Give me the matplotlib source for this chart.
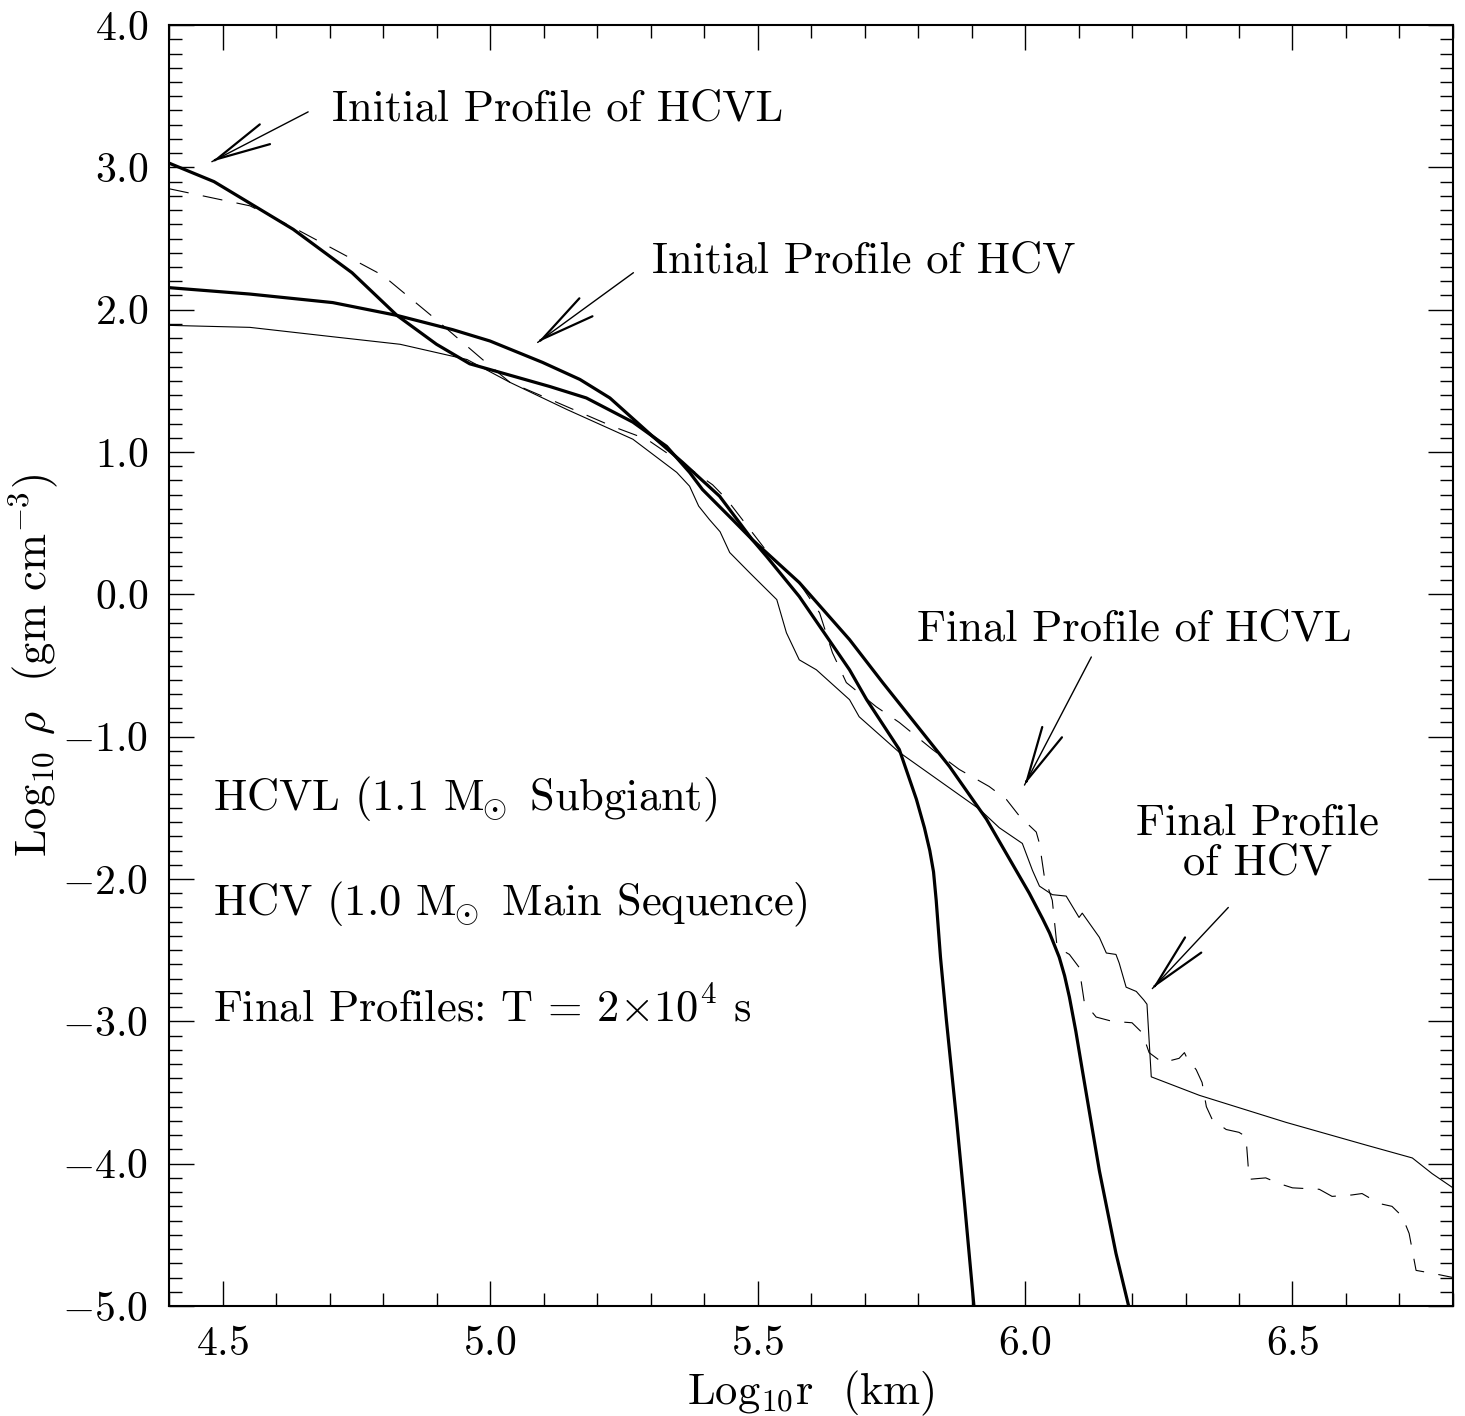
import matplotlib
matplotlib.use("Agg")
import matplotlib.pyplot as plt
from matplotlib.ticker import MultipleLocator, FuncFormatter

# Profilo iniziale HCVL (linea spessa)
hcvl_init_x = [4.40, 4.484, 4.632, 4.742, 4.826, 4.90, 4.962, 5.112, 5.18, 5.267, 5.33, 5.373,
               5.397, 5.453, 5.49, 5.517, 5.578, 5.672, 5.704, 5.765, 5.797, 5.812, 5.822, 5.829,
               5.834, 5.838, 5.842, 5.853, 5.872, 5.887, 5.905]
hcvl_init_y = [3.03, 2.90, 2.565, 2.26, 1.96, 1.757, 1.62, 1.46, 1.38, 1.21, 1.04, 0.857,
               0.737, 0.526, 0.385, 0.266, -0.015, -0.53, -0.74, -1.09, -1.44, -1.64, -1.80, -1.95,
               -2.15, -2.35, -2.55, -2.99, -3.69, -4.28, -5.02]

# Profilo iniziale HCV (linea spessa)
hcv_init_x = [4.40, 4.551, 4.706, 4.826, 4.93, 5.0, 5.098, 5.168, 5.224, 5.304, 5.36, 5.429,
              5.49, 5.578, 5.672, 5.734, 5.859, 5.928, 6.008, 6.033, 6.046, 6.064, 6.074, 6.083,
              6.095, 6.107, 6.139, 6.17, 6.195]
hcv_init_y = [2.155, 2.11, 2.05, 1.96, 1.86, 1.78, 1.63, 1.51, 1.38, 1.11, 0.927, 0.69,
              0.385, 0.083, -0.318, -0.62, -1.21, -1.58, -2.10, -2.28, -2.38, -2.55, -2.68, -2.83,
              -3.07, -3.34, -4.05, -4.63, -5.02]

# Profilo finale HCV (linea sottile)
hcv_final_x = [4.40, 4.551, 4.706, 4.832, 4.957, 5.037, 5.143, 5.267, 5.349, 5.373, 5.39, 5.41,
               5.43, 5.448, 5.485, 5.536, 5.554, 5.578, 5.61, 5.672, 5.69, 5.765, 5.915, 5.952,
               5.995, 6.014, 6.027, 6.051, 6.077, 6.101, 6.107, 6.139, 6.152, 6.17, 6.176, 6.189,
               6.208, 6.222, 6.228, 6.236, 6.326, 6.488, 6.638, 6.724, 6.761, 6.8]
hcv_final_y = [1.89, 1.876, 1.81, 1.757, 1.65, 1.49, 1.30, 1.09, 0.857, 0.76, 0.62, 0.526,
               0.44, 0.294, 0.153, -0.037, -0.27, -0.46, -0.53, -0.74, -0.86, -1.11, -1.51, -1.64,
               -1.75, -1.94, -2.05, -2.11, -2.12, -2.27, -2.24, -2.41, -2.52, -2.53, -2.59, -2.76,
               -2.79, -2.85, -2.88, -3.39, -3.52, -3.71, -3.87, -3.96, -4.07, -4.17]

# Profilo finale HCVL (tratteggiato)
hcvl_final_x = [4.40, 4.551, 4.626, 4.80, 4.893, 4.986, 5.037, 5.112, 5.229, 5.293, 5.367, 5.416,
                5.442, 5.529, 5.578, 5.616, 5.64, 5.666, 5.722, 5.765, 5.827, 5.877, 5.933, 5.965,
                5.99, 6.021, 6.027, 6.036, 6.051, 6.06, 6.083, 6.101, 6.111, 6.133, 6.163, 6.2,
                6.219, 6.232, 6.257, 6.288, 6.298, 6.303, 6.32, 6.331, 6.339, 6.35, 6.376, 6.4,
                6.413, 6.419, 6.45, 6.475, 6.5, 6.55, 6.574, 6.611, 6.63, 6.662, 6.686, 6.705,
                6.718, 6.724, 6.731, 6.761, 6.8]
hcvl_final_y = [2.85, 2.73, 2.59, 2.24, 1.95, 1.65, 1.49, 1.37, 1.18, 1.09, 0.90, 0.77,
                0.67, 0.245, 0.08, -0.13, -0.41, -0.62, -0.79, -0.90, -1.09, -1.23, -1.35, -1.44,
                -1.56, -1.67, -1.75, -1.98, -2.15, -2.48, -2.53, -2.62, -2.87, -2.97, -3.0, -3.01,
                -3.08, -3.22, -3.29, -3.26, -3.22, -3.26, -3.34, -3.43, -3.60, -3.69, -3.76, -3.78,
                -3.81, -4.11, -4.10, -4.14, -4.17, -4.18, -4.23, -4.22, -4.21, -4.28, -4.30, -4.37,
                -4.49, -4.61, -4.75, -4.77, -4.80]

plt.rcParams['font.family'] = 'cmr10'
plt.rcParams['mathtext.fontset'] = 'cm'
plt.rcParams['axes.formatter.use_mathtext'] = True

FS = 32

fig = plt.figure(figsize=(14.65, 14.16), dpi=100)
ax = fig.add_axes([0.1154, 0.0777, 0.8764, 0.9046])

ax.plot(hcvl_init_x, hcvl_init_y, color='black', lw=2.3)
ax.plot(hcv_init_x, hcv_init_y, color='black', lw=2.3)
ax.plot(hcv_final_x, hcv_final_y, color='black', lw=0.8)
ax.plot(hcvl_final_x, hcvl_final_y, color='black', lw=0.8, dashes=(18, 13))

ax.set_xlim(4.4, 6.8)
ax.set_ylim(-5.0, 4.0)
ax.xaxis.set_major_locator(MultipleLocator(0.5))
ax.xaxis.set_minor_locator(MultipleLocator(0.1))
ax.yaxis.set_major_locator(MultipleLocator(1.0))
ax.yaxis.set_minor_locator(MultipleLocator(0.1))
fmt = FuncFormatter(lambda v, p: f'${v:.1f}$')
ax.xaxis.set_major_formatter(fmt)
ax.yaxis.set_major_formatter(fmt)

ax.tick_params(which='both', direction='in', top=True, right=True, width=1.0)
ax.tick_params(which='major', length=18, labelsize=30)
ax.tick_params(axis='x', which='major', pad=14)
ax.tick_params(axis='y', which='major', pad=15)
ax.tick_params(which='minor', length=9.5)
for s in ax.spines.values():
    s.set_linewidth(1.5)

ax.set_xlabel(r'Log$_{10}$r  (km)', fontsize=FS, labelpad=4)
ax.set_ylabel(r'Log$_{10}$ $\rho$  (gm cm$^{-3}$)', fontsize=FS, labelpad=2)


# Freccia: asta sottile e punta con alette piu' spesse
def freccia(tip, tail):
    ax.annotate('', xy=tip, xytext=tail,
                arrowprops=dict(arrowstyle='-', lw=1.0, color='black', shrinkA=0, shrinkB=0))
    near = (tip[0] + 0.03 * (tail[0] - tip[0]), tip[1] + 0.03 * (tail[1] - tip[1]))
    ax.annotate('', xy=tip, xytext=near,
                arrowprops=dict(arrowstyle='->,head_length=3.9,head_width=0.8', mutation_scale=10,
                                lw=1.6, color='black', shrinkA=0, shrinkB=0))


freccia((4.48, 3.04), (4.66, 3.39))
ax.text(4.705, 3.41, 'Initial Profile of HCVL', fontsize=FS, va='center', ha='left')

freccia((5.089, 1.77), (5.268, 2.26))
ax.text(5.302, 2.34, 'Initial Profile of HCV', fontsize=FS, va='center', ha='left')

freccia((5.999, -1.34), (6.124, -0.44))
ax.text(5.799, -0.25, 'Final Profile of HCVL', fontsize=FS, va='center', ha='left')

freccia((6.238, -2.77), (6.38, -2.20))
ax.text(6.434, -1.75, 'Final Profile\nof HCV', fontsize=FS, va='center', ha='center',
        linespacing=1.0)

ax.text(4.482, -1.44, r'HCVL (1.1 $\mathrm{M}_{\!\!\odot}$ Subgiant)', fontsize=FS, va='center')
ax.text(4.482, -2.18, r'HCV (1.0 $\mathrm{M}_{\!\!\odot}$ Main Sequence)', fontsize=FS, va='center')
ax.text(4.482, -2.92, r'Final Profiles: T = 2$\times$10$^4$ s', fontsize=FS, va='center')

fig.savefig('out.png', dpi=100)
